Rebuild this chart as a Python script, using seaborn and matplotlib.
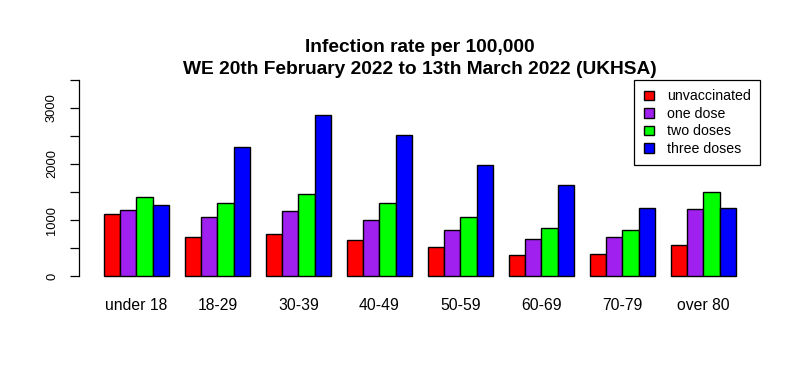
import pandas as pd
import seaborn as sns
import matplotlib.pyplot as plt

# values (rate per 100,000)
age_groups = ['under 18', '18-29', '30-39', '40-49', '50-59', '60-69', '70-79', 'over 80']
statuses = ['unvaccinated', 'one dose', 'two doses', 'three doses']
unvaccinated = [1110, 705, 748, 652, 522, 386, 392, 557]
one_dose = [1180, 1060, 1157, 1000, 820, 670, 700, 1192]
two_doses = [1406, 1310, 1465, 1300, 1050, 855, 830, 1506]
three_doses = [1274, 2300, 2866, 2520, 1976, 1625, 1221, 1221]
bar_colors = ['#FF0000', '#A020F0', '#00FF00', '#0000FF']
y_ticks = [0, 500, 1000, 1500, 2000, 2500, 3000, 3500]
y_tick_labels = ['0', '', '1000', '', '2000', '', '3000', '']


def build_frame():
    rows = []
    for status, values in zip(statuses, [unvaccinated, one_dose, two_doses, three_doses]):
        for age, v in zip(age_groups, values):
            rows.append({'age': age, 'status': status, 'rate': v})
    return pd.DataFrame(rows)


df = build_frame()

sns.set_style("white")
plt.rcParams['font.family'] = ['Liberation Sans', 'DejaVu Sans']
plt.rcParams['text.color'] = 'black'
plt.rcParams['xtick.color'] = 'black'
plt.rcParams['ytick.color'] = 'black'

fig = plt.figure(figsize=(8.01, 3.82), dpi=100)
ax = fig.add_axes([0.0983, 0.2565, 0.8518, 0.555])

sns.barplot(data=df, x='age', y='rate', hue='status', order=age_groups,
            hue_order=statuses, palette=bar_colors, saturation=1,
            edgecolor='black', linewidth=1, width=0.8, errorbar=None, ax=ax)

ax.set_xlim(-0.712, 7.712)
ax.set_ylim(-140, 3640)
ax.set_xlabel('')
ax.set_ylabel('')

for side in ['top', 'right', 'bottom']:
    ax.spines[side].set_visible(False)
ax.spines['left'].set_color('black')
ax.spines['left'].set_linewidth(0.9)
ax.spines['left'].set_bounds(0, 3500)

ax.set_yticks(y_ticks)
ax.set_yticklabels(y_tick_labels, rotation=90, va='center', fontsize=9.3, color='black')
ax.tick_params(axis='y', length=6.5, width=0.9, color='black', pad=8.4, left=True)
ax.tick_params(axis='x', length=0, pad=10, labelsize=11.3, labelcolor='black')

# legend, boxed in the top right like the original
handles, labels = ax.get_legend_handles_labels()
leg = ax.legend(handles, labels, loc='upper right',
                bbox_to_anchor=(760 / 801, 1 - 80 / 382), bbox_transform=fig.transFigure,
                fontsize=10.2, frameon=True, fancybox=False, edgecolor='black',
                framealpha=1, borderaxespad=0, borderpad=0.65, handlelength=0.75,
                handleheight=0.65, handletextpad=0.9, labelspacing=0.25)
leg.get_frame().set_linewidth(0.9)
for t in leg.get_texts():
    t.set_color('black')

fig.text(419.8 / 801, 1 - 58.5 / 382,
         'Infection rate per 100,000\nWE 20th February 2022 to 13th March 2022 (UKHSA)',
         ha='center', va='center', fontsize=13.8, fontweight='bold', linespacing=1.35,
         color='black')

fig.savefig('out.png', dpi=100)
plt.close(fig)
